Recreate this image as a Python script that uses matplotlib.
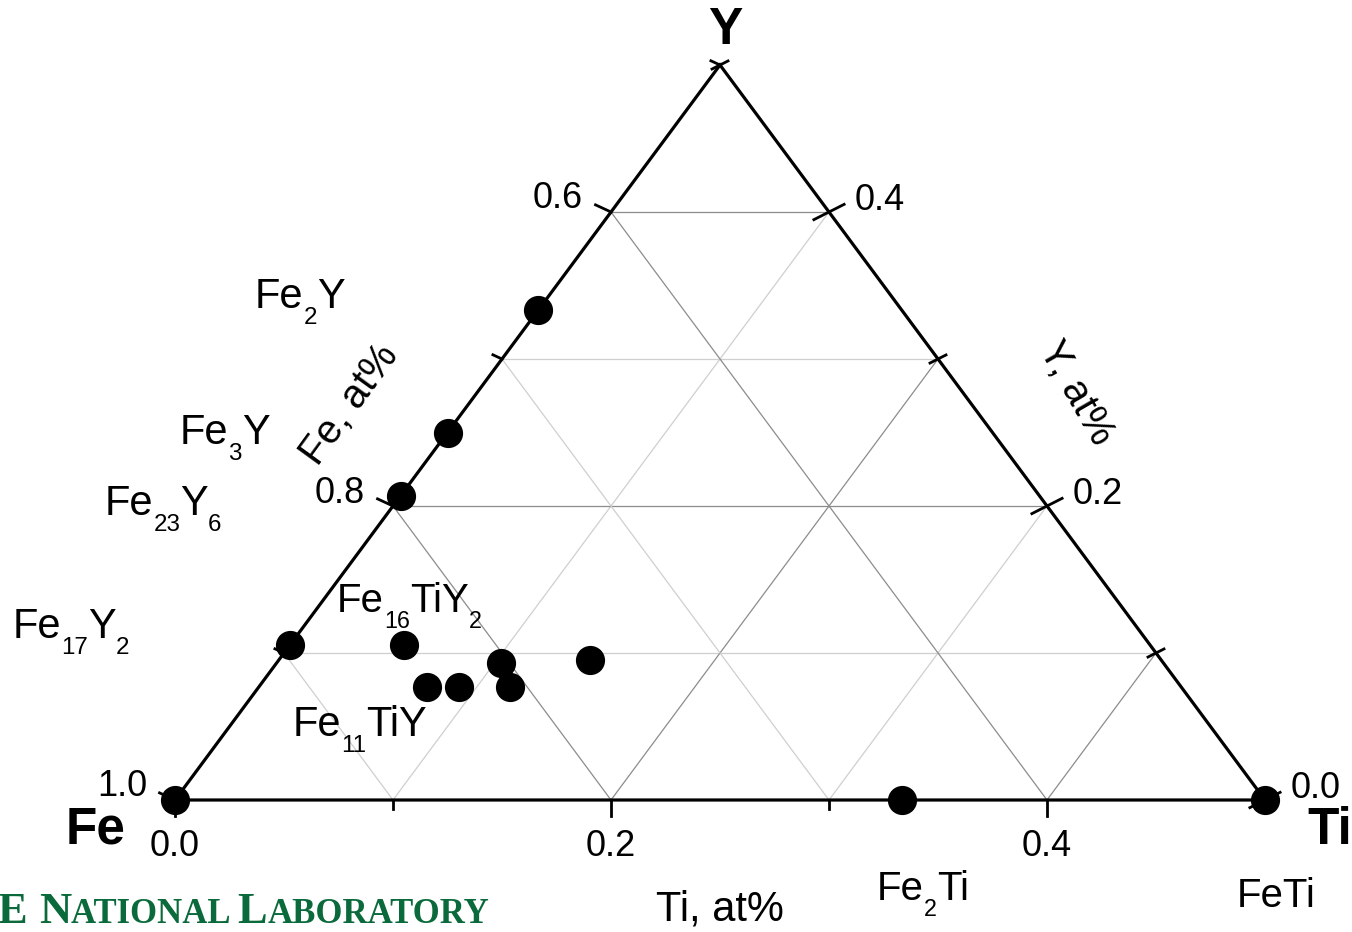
import numpy as np
import matplotlib
matplotlib.use('Agg')
import matplotlib.pyplot as plt
import matplotlib.transforms as mtransforms

plt.rcParams['font.family'] = ['Liberation Sans', 'DejaVu Sans']

W, H = 1352, 932

# phase compositions (atom fraction Ti, Y; Fe is the rest)
pt_ti = [0.0, 0.0, 0.0, 0.0, 0.0, 1/3, 0.5, 1/19, 1/13, 0.092, 0.103, 0.115, 0.143]
pt_y  = [0.0, 2/19, 6/29, 0.25, 1/3, 0.0, 0.0, 2/19, 1/13, 0.077, 0.093, 0.077, 0.095]

# formula labels: pieces (text, is_subscript)
phase_labels = [
    [("Fe", 0), ("2", 1), ("Y", 0)],
    [("Fe", 0), ("3", 1), ("Y", 0)],
    [("Fe", 0), ("23", 1), ("Y", 0), ("6", 1)],
    [("Fe", 0), ("17", 1), ("Y", 0), ("2", 1)],
    [("Fe", 0), ("16", 1), ("TiY", 0), ("2", 1)],
    [("Fe", 0), ("11", 1), ("TiY", 0)],
    [("Fe", 0), ("2", 1), ("Ti", 0)],
    [("FeTi", 0)],
]
label_xy = [(255, 308), (180, 444), (105, 515), (13, 638),
            (337, 612), (293, 736), (877, 900), (1237, 907)]
label_size = [30, 30, 30, 30, 29, 30, 29, 29]

fe_ticks = [0.5, 0.6, 0.7, 0.8, 0.9, 1.0]
y_ticks = [0.0, 0.1, 0.2, 0.3, 0.4, 0.5]
ti_ticks = [0.0, 0.1, 0.2, 0.3, 0.4, 0.5]
fe_lab = [0.6, 0.8, 1.0]
y_lab = [0.4, 0.2, 0.0]
ti_lab = [0.0, 0.2, 0.4]


def tern(ti, y):
    ti = np.asarray(ti, float)
    y = np.asarray(y, float)
    return ti + y / 2.0, y


fig = plt.figure(figsize=(W / 100, H / 100), dpi=100)
ax = fig.add_axes([0, 0, 1, 1])
xmin, xmax = -175 / 2180, (W - 175) / 2180
ymin, ymax = (800 - H) / 1470, 800 / 1470
ax.set_xlim(xmin, xmax)
ax.set_ylim(ymin, ymax)
ax.axis('off')
kx = W / (xmax - xmin)
ky = H / (ymax - ymin)

# pixel transform, origin top-left
pix = mtransforms.Affine2D().scale(1, -1).translate(0, H)

# grid
dark, light = '#8c8c8c', '#cfcfcf'
for v in [0.1, 0.2, 0.3, 0.4]:
    c = dark if round(v * 10) % 2 == 0 else light
    x, y = tern([0, 0.5 - v], [v, v])           # const Y
    ax.plot(x, y, color=c, lw=0.9, zorder=1)
    x, y = tern([v, v], [0, 0.5 - v])           # const Ti
    ax.plot(x, y, color=c, lw=0.9, zorder=1)
for f in [0.6, 0.7, 0.8, 0.9]:
    s = 1 - f
    c = dark if round(f * 10) % 2 == 0 else light
    x, y = tern([s, 0], [0, s])                 # const Fe
    ax.plot(x, y, color=c, lw=0.9, zorder=1)

# triangle
x, y = tern([0, 0.5, 0, 0], [0, 0, 0.5, 0])
ax.plot(x, y, color='k', lw=2.3, zorder=2, solid_joinstyle='miter')


def seg(p, d, a, b):
    # segment from a to b pixels along direction d (pixel, y down)
    x0 = p[0] + a * d[0] / kx
    y0 = p[1] - a * d[1] / ky
    x1 = p[0] + b * d[0] / kx
    y1 = p[1] - b * d[1] / ky
    ax.plot([x0, x1], [y0, y1], color='k', lw=2.0, zorder=2)


for f in fe_ticks:
    p = tern(0, 1 - f)
    L = 17 if round(f * 10) % 2 == 0 else 10
    seg(p, (-0.91, -0.42), 0, L)
for v in y_ticks:
    p = tern(0.5 - v, v)
    L = 17 if round(v * 10) % 2 == 0 else 9
    seg(p, (0.89, -0.45), -L, L)
for t in ti_ticks:
    p = tern(t, 0)
    L = 16 if round(t * 10) % 2 == 0 else 9
    seg(p, (0, 1), 0, L)

# tick labels
for f in fe_lab:
    ax.annotate("%.1f" % f, xy=tern(0, 1 - f), xytext=(-28, 13),
                textcoords='offset pixels', ha='right', va='center', fontsize=26)
for v in y_lab:
    ax.annotate("%.1f" % v, xy=tern(0.5 - v, v), xytext=(26, 12),
                textcoords='offset pixels', ha='left', va='center', fontsize=26)
for t in ti_lab:
    ax.annotate("%.1f" % t, xy=tern(t, 0), xytext=(0, -46),
                textcoords='offset pixels', ha='center', va='center', fontsize=26)

# points
x, y = tern(pt_ti, pt_y)
ax.plot(x, y, 'o', color='k', ms=20, zorder=3)

renderer = fig.canvas.get_renderer()


def seq_text(x0, y0, parts, **kw):
    x = x0
    for s, size, dy in parts:
        t = fig.text(x, y0 + dy, s, transform=pix, fontsize=size,
                     va='baseline', ha='left', **kw)
        x += t.get_window_extent(renderer).width


for parts, (lx, ly), fs in zip(phase_labels, label_xy, label_size):
    pieces = []
    for s, sub in parts:
        if sub:
            pieces.append((s, fs * 0.58, 16))
        else:
            pieces.append((s, fs, 0))
    seq_text(lx, ly, pieces)

# corner names
fig.text(725, 30, "Y", transform=pix, fontsize=37, fontweight='bold', ha='center', va='center')
fig.text(96, 830, "Fe", transform=pix, fontsize=37, fontweight='bold', ha='center', va='center')
fig.text(1330, 830, "Ti", transform=pix, fontsize=37, fontweight='bold', ha='center', va='center')

# axis titles
fig.text(350, 405, "Fe, at%", transform=pix, fontsize=29, rotation=54,
         ha='center', va='center', rotation_mode='anchor')
fig.text(1076, 393, "Y, at%", transform=pix, fontsize=29, rotation=-60,
         ha='center', va='center', rotation_mode='anchor')
fig.text(720, 910, "Ti, at%", transform=pix, fontsize=30, ha='center', va='center')

# logo text (cut off at the left)
green = '#0b6a3b'
seq_text(-2, 923, [("E ", 32, 0), ("N", 32, 0), ("ATIONAL ", 25, 0),
                   ("L", 32, 0), ("ABORATORY", 25, 0)],
         family='Liberation Serif', fontweight='bold', color=green)

plt.savefig('out.png', dpi=100)
